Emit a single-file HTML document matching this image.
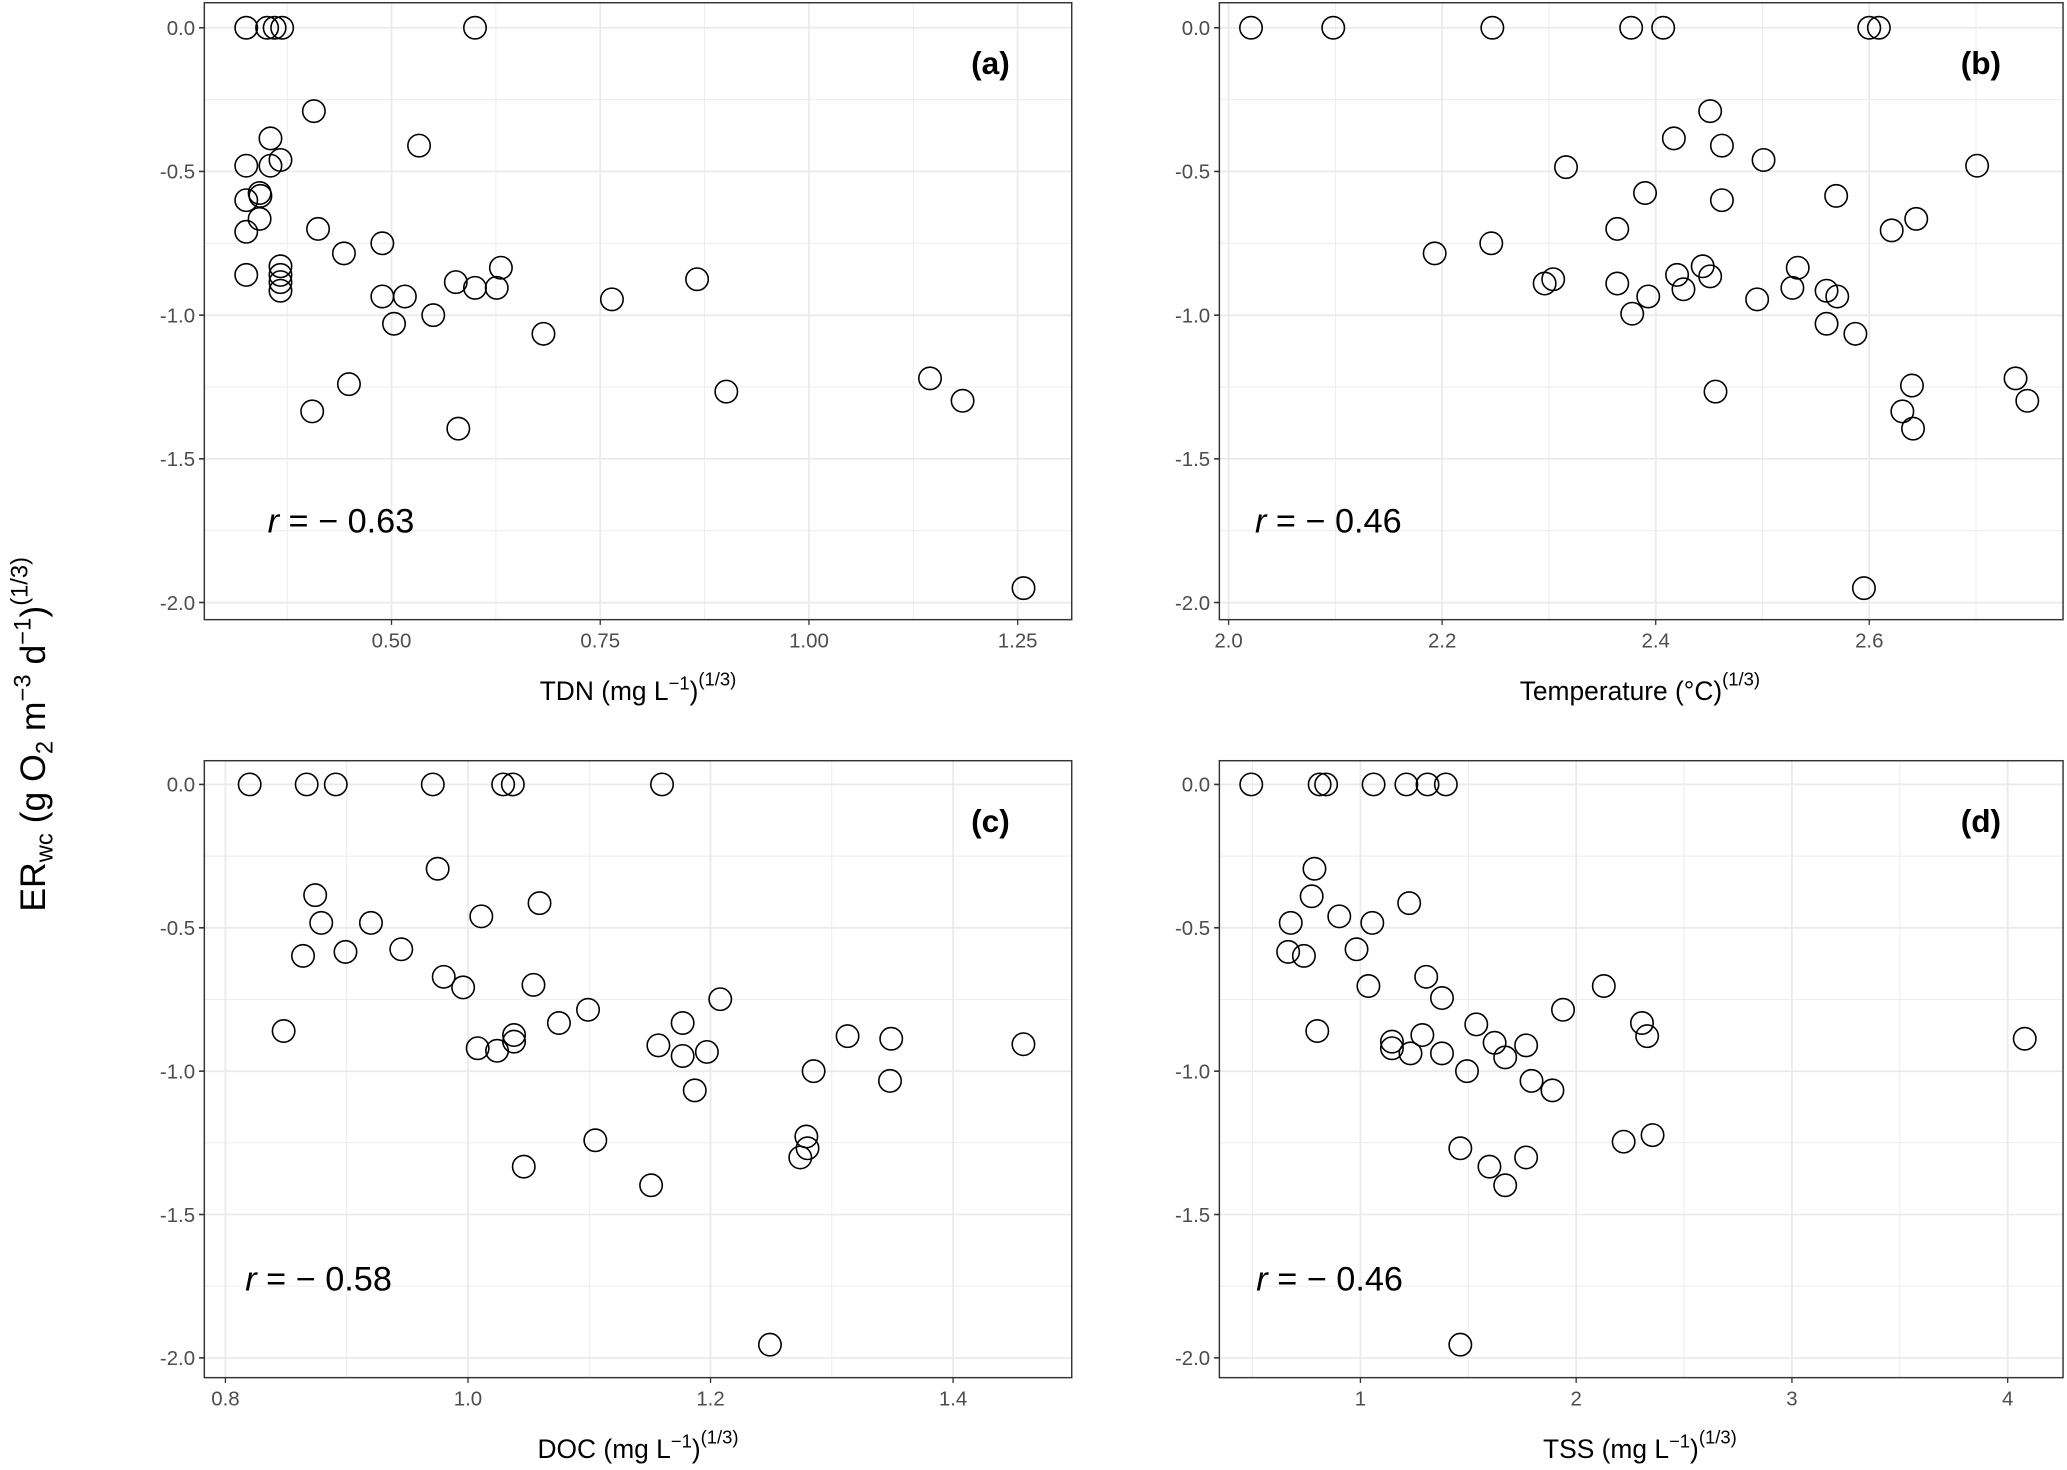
<!DOCTYPE html>
<html><head><meta charset="utf-8"><style>
body{margin:0;background:#fff}
svg{display:block;font-family:"Liberation Sans",sans-serif}
</style></head><body>
<svg id="fig" width="2067" height="1470" viewBox="0 0 1568 1115" xmlns="http://www.w3.org/2000/svg">
<text transform="translate(34,557) rotate(-90)" text-anchor="middle" font-size="27" fill="#000">ER<tspan font-size="18" dy="6">wc</tspan><tspan dy="-6"> (g O</tspan><tspan font-size="18" dy="6">2</tspan><tspan dy="-6"> m</tspan><tspan font-size="18" dy="-11">−3</tspan><tspan dy="11"> d</tspan><tspan font-size="18" dy="-11">−1</tspan><tspan dy="11">)</tspan><tspan font-size="18" dy="-13">(1/3)</tspan></text>
</svg>
<script>
// Panel (a) TDN
const tdnX=[0.326,0.351,0.36,0.369,0.6,0.407,0.533,0.355,0.326,0.355,0.367,0.342,0.343,0.326,0.342,0.326,0.412,0.443,0.489,0.326,0.367,0.367,0.367,0.367,0.489,0.516,0.503,0.55,0.577,0.6,0.626,0.631,0.764,0.866,0.682,0.405,0.449,0.58,0.901,1.145,1.184,1.257];
const tdnY=[0,0,0,0,0,-0.29,-0.41,-0.385,-0.48,-0.48,-0.46,-0.575,-0.585,-0.6,-0.665,-0.71,-0.7,-0.785,-0.75,-0.86,-0.83,-0.86,-0.885,-0.915,-0.935,-0.935,-1.03,-1.0,-0.885,-0.905,-0.905,-0.835,-0.945,-0.875,-1.065,-1.335,-1.24,-1.395,-1.266,-1.22,-1.298,-1.95];
// Panel (b) Temperature
const tempX=[2.021,2.098,2.247,2.377,2.407,2.6,2.609,2.451,2.417,2.462,2.316,2.501,2.701,2.39,2.569,2.462,2.364,2.644,2.621,2.193,2.246,2.296,2.304,2.364,2.393,2.42,2.426,2.444,2.451,2.378,2.495,2.528,2.533,2.56,2.57,2.56,2.587,2.456,2.631,2.64,2.641,2.737,2.748,2.595];
const tempY=[0,0,0,0,0,0,0,-0.29,-0.385,-0.41,-0.485,-0.46,-0.48,-0.575,-0.585,-0.6,-0.7,-0.665,-0.705,-0.785,-0.75,-0.89,-0.875,-0.89,-0.935,-0.86,-0.91,-0.83,-0.865,-0.995,-0.945,-0.905,-0.835,-0.915,-0.935,-1.03,-1.065,-1.266,-1.335,-1.245,-1.395,-1.22,-1.298,-1.95];
// Panel (c) DOC
const docX=[0.82,0.867,0.891,0.971,1.029,1.037,1.16,0.975,0.874,0.879,0.92,1.059,1.011,0.864,0.899,0.945,0.98,0.996,1.054,0.848,1.008,1.024,1.038,1.038,1.075,1.099,1.157,1.177,1.177,1.197,1.208,1.187,1.313,1.349,1.285,1.348,1.458,1.105,1.046,1.151,1.279,1.28,1.274,1.249];
const docY=[0,0,0,0,0,0,0,-0.294,-0.386,-0.483,-0.483,-0.414,-0.46,-0.598,-0.584,-0.575,-0.671,-0.708,-0.699,-0.86,-0.92,-0.929,-0.874,-0.897,-0.832,-0.786,-0.91,-0.832,-0.947,-0.933,-0.749,-1.067,-0.878,-0.887,-1.0,-1.034,-0.906,-1.241,-1.333,-1.398,-1.228,-1.269,-1.301,-1.954];
// Panel (d) TSS
const tssX=[0.494,0.811,0.841,1.061,1.213,1.311,1.396,0.787,0.774,0.677,0.902,1.055,1.226,0.665,0.738,0.982,1.037,1.305,1.378,0.8,1.146,1.146,1.232,1.287,1.378,1.537,1.622,1.671,1.768,1.939,2.128,2.305,2.329,1.494,1.793,1.89,1.463,1.598,1.671,1.768,2.22,2.354,4.079,1.463];
const tssY=[0,0,0,0,0,0,0,-0.294,-0.39,-0.483,-0.46,-0.483,-0.414,-0.584,-0.598,-0.575,-0.703,-0.671,-0.745,-0.86,-0.897,-0.92,-0.938,-0.874,-0.938,-0.837,-0.901,-0.952,-0.91,-0.786,-0.703,-0.832,-0.878,-1.0,-1.034,-1.067,-1.269,-1.333,-1.398,-1.301,-1.246,-1.223,-0.887,-1.954];
const aTicks=[0.5,0.75,1.0,1.25], aTickLabels=["0.50","0.75","1.00","1.25"];
const bTicks=[2.0,2.2,2.4,2.6], bTickLabels=["2.0","2.2","2.4","2.6"];
const cTicks=[0.8,1.0,1.2,1.4], cTickLabels=["0.8","1.0","1.2","1.4"];
const dTicks=[1,2,3,4], dTickLabels=["1","2","3","4"];
const yTicks=[0,-0.5,-1.0,-1.5,-2.0], yTickLabels=["0.0","-0.5","-1.0","-1.5","-2.0"];
const rLabels=["0.63","0.46","0.58","0.46"];

const NS="http://www.w3.org/2000/svg";
const svg=document.getElementById('fig');
function mk(tag,attrs,parent){const e=document.createElementNS(NS,tag);for(const k in attrs)e.setAttribute(k,attrs[k]);(parent||svg).appendChild(e);return e;}

const panels=[
 {id:'a',L:155,R:813,T:2,B:470,x0:0.5,px0:297,x1:1.25,px1:772,y0pix:21,y2pix:457,xs:tdnX,ys:tdnY,ticks:aTicks,tl:aTickLabels,minor:[0.375,0.625,0.875,1.125],title:'TDN (mg L',tx:484,rx:203},
 {id:'b',L:925,R:1565,T:2,B:470,x0:2.0,px0:932,x1:2.6,px1:1418,y0pix:21,y2pix:457,xs:tempX,ys:tempY,ticks:bTicks,tl:bTickLabels,minor:[2.1,2.3,2.5,2.7],title:'Temperature (°C)',tx:1244,rx:952},
 {id:'c',L:155,R:813,T:577,B:1045,x0:1.0,px0:355,x1:1.4,px1:723,y0pix:595,y2pix:1030,xs:docX,ys:docY,ticks:cTicks,tl:cTickLabels,minor:[0.9,1.1,1.3],title:'DOC (mg L',tx:484,rx:186},
 {id:'d',L:925,R:1565,T:577,B:1045,x0:1,px0:1032,x1:4,px1:1523,y0pix:595,y2pix:1030,xs:tssX,ys:tssY,ticks:dTicks,tl:dTickLabels,minor:[0.5,1.5,2.5,3.5],title:'TSS (mg L',tx:1244,rx:953}
];
const yMinor=[-0.25,-0.75,-1.25,-1.75];

panels.forEach((p,pi)=>{
 const sx=v=>p.px0+(v-p.x0)*(p.px1-p.px0)/(p.x1-p.x0);
 const sy=v=>p.y0pix+(0-v)*(p.y2pix-p.y0pix)/2;
 const g=mk('g',{});
 
 
 p.minor.forEach(v=>{const x=sx(v);if(x>p.L&&x<p.R){const l=mk('line',{x1:x,x2:x,y1:p.T,y2:p.B,stroke:'#ebebeb','stroke-width':0.7},g);}});
 yMinor.forEach(v=>{const y=sy(v);const l=mk('line',{x1:p.L,x2:p.R,y1:y,y2:y,stroke:'#ebebeb','stroke-width':0.7},g);});
 p.ticks.forEach((v,i)=>{const x=sx(v);
  const l=mk('line',{x1:x,x2:x,y1:p.T,y2:p.B,stroke:'#ebebeb','stroke-width':1.4},g);
  const t=mk('line',{x1:x,x2:x,y1:p.B,y2:p.B+4,stroke:'#333','stroke-width':1},g);
  const tx=mk('text',{x:x,y:p.B+21,'text-anchor':'middle','font-size':15.5,fill:'#4d4d4d'},g);tx.textContent=p.tl[i];});
 yTicks.forEach((v,i)=>{const y=sy(v);
  const l=mk('line',{x1:p.L,x2:p.R,y1:y,y2:y,stroke:'#ebebeb','stroke-width':1.4},g);
  const t=mk('line',{x1:p.L-4,x2:p.L,y1:y,y2:y,stroke:'#333','stroke-width':1.2},g);
  const tx=mk('text',{x:p.L-7,y:y+5.5,'text-anchor':'end','font-size':15.5,fill:'#4d4d4d'},g);tx.textContent=yTickLabels[i];});
 p.xs.forEach((xv,i)=>{const c=mk('circle',{cx:sx(xv),cy:sy(p.ys[i]),r:8.5,fill:'none',stroke:'#000','stroke-width':1.2},g);
  
  });
 const b=mk('rect',{x:p.L,y:p.T,width:p.R-p.L,height:p.B-p.T,fill:'none',stroke:'#333','stroke-width':1.1},g);
 
 const lab=mk('text',{x:p.R-47,y:p.T+54,'text-anchor':'end','font-size':24,'font-weight':'bold',fill:'#000'},g);
 lab.textContent='('+p.id+')';
 const r=mk('text',{x:p.rx,y:p.T+402,'font-size':26,fill:'#000'},g);
 
 const ri=mk('tspan',{'font-style':'italic'},r);ri.textContent='r';
 const rt=mk('tspan',{},r);rt.textContent=' = − '+rLabels[pi];
 const xt=mk('text',{x:p.tx,y:p.B+61,'text-anchor':'middle','font-size':20,fill:'#000'},g);
 
 if(p.id==='b'){const s=mk('tspan',{},xt);s.textContent=p.title;}
 else{const s=mk('tspan',{},xt);s.textContent=p.title;
  const s2=mk('tspan',{'font-size':14,dy:-8},xt);s2.textContent='−1';
  const s3=mk('tspan',{dy:8},xt);s3.textContent=')';}
 const s4=mk('tspan',{'font-size':14,dy:-11},xt);s4.textContent='(1/3)';
});
</script>
</body></html>
